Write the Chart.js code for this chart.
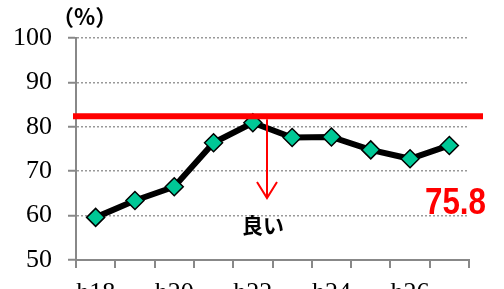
<!DOCTYPE html>
<html>
<head>
<meta charset="utf-8">
<script src="https://cdn.jsdelivr.net/npm/chart.js@4"></script>
<style>
html, body { margin: 0; padding: 0; overflow: hidden; background: #fff; }
</style>
</head>
<body>
<canvas id="myChart" width="504" height="320"></canvas>
<script>
var years = ['h18', 'h19', 'h20', 'h21', 'h22', 'h23', 'h24', 'h25', 'h26', 'h27'];
var rates = [59.6, 63.4, 66.5, 76.4, 80.9, 77.6, 77.7, 74.8, 72.8, 75.8];
var targetRate = 82.4;
var latestLabel = '75.8';
var unitLabel = '（%）';
var goodLabel = '良い';

// red target line, arrow and texts
var notes = {
  id: 'notes',
  afterDatasetsDraw: function (chart) {
    var c = chart.ctx;
    var y = chart.scales.y;
    var ty = y.getPixelForValue(targetRate);
    c.save();
    c.strokeStyle = '#ff0000';
    c.lineWidth = 6;
    c.beginPath();
    c.moveTo(73, ty);
    c.lineTo(483, ty);
    c.stroke();

    // arrow
    var ax = 267;
    var ay = 198;
    c.lineWidth = 2;
    c.beginPath();
    c.moveTo(ax, ty + 3);
    c.lineTo(ax, ay);
    c.moveTo(ax - 10, ay - 16);
    c.lineTo(ax, ay);
    c.lineTo(ax + 10, ay - 16);
    c.stroke();

    c.fillStyle = '#000';
    c.font = 'bold 21px "Noto Sans CJK JP", sans-serif';
    c.textAlign = 'center';
    c.textBaseline = 'middle';
    c.fillText(goodLabel, 263, 225);

    c.font = 'bold 22px "Noto Sans CJK JP", sans-serif';
    c.textAlign = 'left';
    c.fillText(unitLabel, 52, 17);

    // latest value, narrow bold red
    c.font = 'bold 36px "Liberation Sans", Arial, sans-serif';
    var w = c.measureText(latestLabel).width;
    var s = 61 / w;
    c.translate(486, 214);
    c.scale(s, 1);
    c.fillStyle = '#ff0000';
    c.textAlign = 'right';
    c.textBaseline = 'alphabetic';
    c.fillText(latestLabel, 0, 0);
    c.restore();
  }
};

var ctx = document.getElementById('myChart');

var chart = new Chart(ctx, {
  type: 'line',
  data: {
    labels: years,
    datasets: [{
      data: rates,
      borderColor: '#000',
      borderWidth: 6,
      tension: 0,
      pointStyle: 'rectRot',
      pointRadius: 9,
      pointBackgroundColor: '#00c896',
      pointBorderColor: '#000',
      pointBorderWidth: 1.5
    }]
  },
  options: {
    responsive: false,
    animation: false,
    layout: { padding: { top: 38, right: 35, left: 0, bottom: 0 } },
    plugins: {
      legend: { display: false },
      tooltip: { enabled: false }
    },
    scales: {
      x: {
        offset: true,
        afterFit: function (s) { s.height = 60; },
        grid: {
          offset: true,
          drawOnChartArea: false,
          tickLength: 8,
          color: '#888',
          lineWidth: 2
        },
        border: { color: '#888', width: 2 },
        ticks: {
          autoSkip: false,
          maxRotation: 0,
          padding: 10,
          color: '#000',
          font: { family: '"Liberation Serif", serif', size: 26 },
          callback: function (v, i) { return i % 2 === 0 ? years[i] : ''; }
        }
      },
      y: {
        min: 50,
        max: 100,
        afterFit: function (s) { s.width = 76; },
        grid: {
          color: '#999',
          lineWidth: 1.5,
          tickLength: 8,
          tickColor: '#888',
          tickWidth: 2
        },
        border: { color: '#888', width: 2, dash: [2, 2] },
        ticks: {
          stepSize: 10,
          padding: 16,
          color: '#000',
          font: { family: '"Liberation Serif", serif', size: 26 }
        }
      }
    }
  },
  plugins: [notes]
});
</script>
</body>
</html>
